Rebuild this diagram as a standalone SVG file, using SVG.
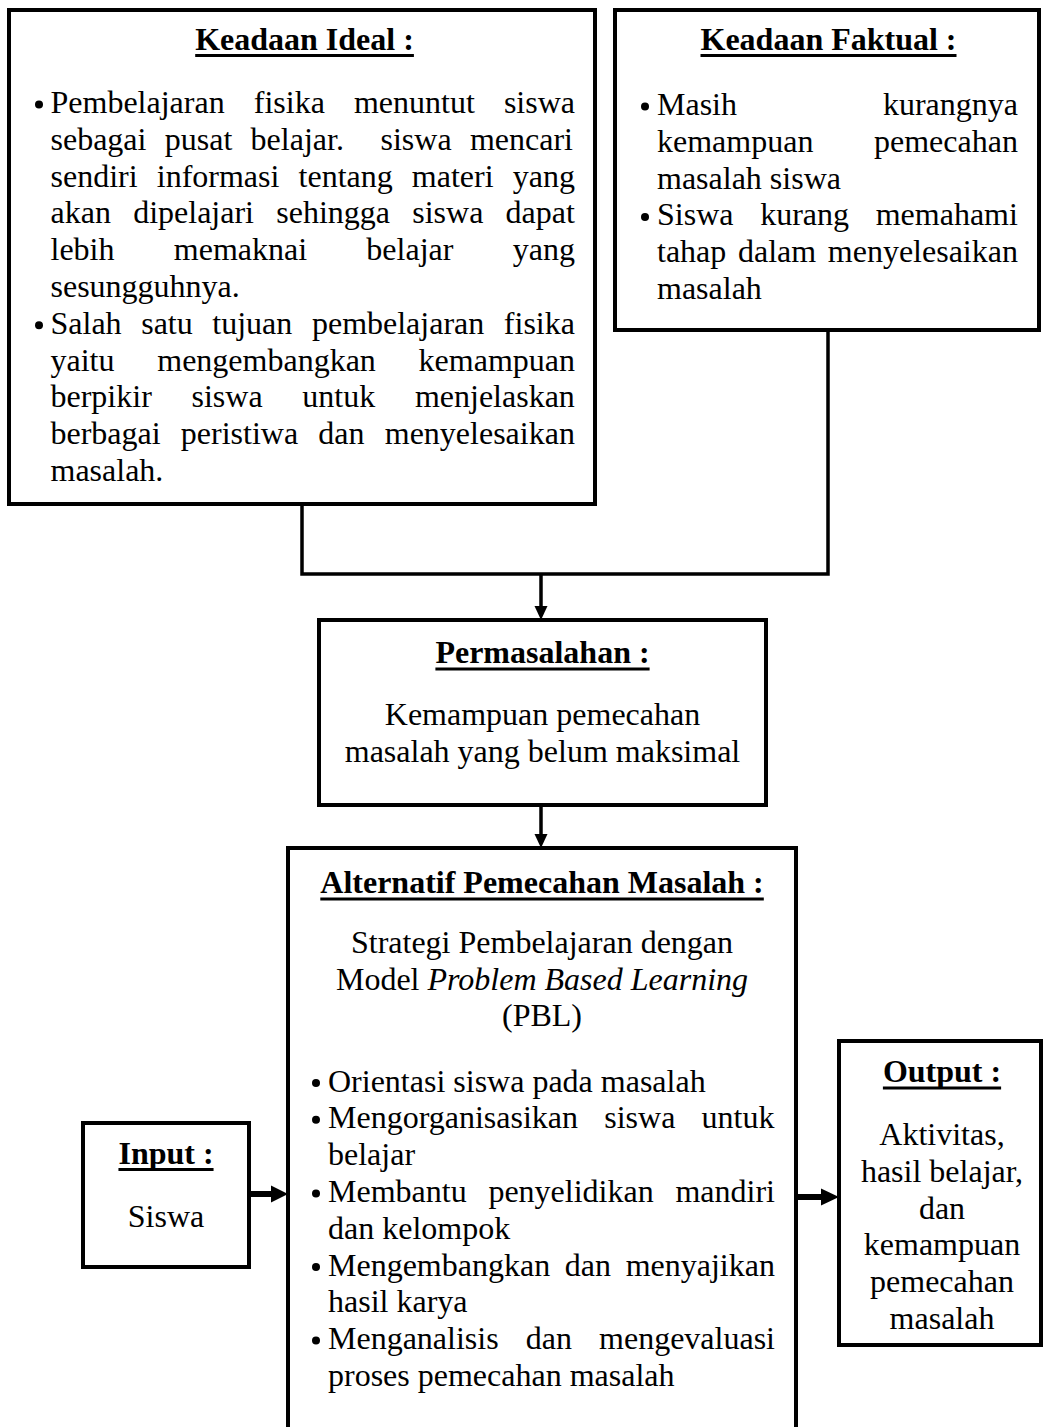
<svg xmlns="http://www.w3.org/2000/svg" width="1043" height="1427" viewBox="0 0 1043 1427">
<style>
.box{fill:#fff;stroke:#000;stroke-width:4}
.t{font-family:"Liberation Serif","Times New Roman",serif;font-size:32px;fill:#000}
.h{font-weight:bold}
.c{text-anchor:middle}
.i{font-style:italic}
.ul{fill:#000}
.bul{fill:#000}
.conn{fill:none;stroke:#000;stroke-width:3.5}
.thick{fill:none;stroke:#000;stroke-width:6}
.head{fill:#000}
</style>
<rect x="0" y="0" width="1043" height="1427" fill="#fff"/>

<g id="connectors">
  <path class="conn" d="M302,504 V574 H828 V330"/>
  <path class="conn" d="M541,574 V607"/>
  <polygon class="head" points="534.5,606 547.5,606 541,620"/>
  <path class="conn" d="M541,805 V835"/>
  <polygon class="head" points="534.5,834 547.5,834 541,848"/>
  <path class="thick" d="M249,1194 H272"/>
  <polygon class="head" points="271,1185.5 271,1202.5 288,1194"/>
  <path class="thick" d="M796,1197 H822"/>
  <polygon class="head" points="821,1188.5 821,1205.5 839,1197"/>
</g>

<g id="keadaan-ideal">
  <rect class="box" x="9" y="10" width="586" height="494"/>
  <text class="t h c" x="304.5" y="49.5">Keadaan Ideal :</text>
  <rect class="ul" x="195.2" y="54" width="218.7" height="3"/>
  <circle class="bul" cx="39" cy="104.5" r="4"/>
  <text class="t" x="50.5" y="113" style="word-spacing:21.1px">Pembelajaran fisika menuntut siswa</text>
  <text class="t" x="50.5" y="149.8" xml:space="preserve" style="word-spacing:10.3px">sebagai pusat belajar.  siswa mencari</text>
  <text class="t" x="50.5" y="186.6" style="word-spacing:11.15px">sendiri informasi tentang materi yang</text>
  <text class="t" x="50.5" y="223.4" style="word-spacing:14.25px">akan dipelajari sehingga siswa dapat</text>
  <text class="t" x="50.5" y="260.2" style="word-spacing:51.3px">lebih memaknai belajar yang</text>
  <text class="t" x="50.5" y="297">sesungguhnya.</text>
  <circle class="bul" cx="39" cy="325.3" r="4"/>
  <text class="t" x="50.5" y="333.8" style="word-spacing:11.6px">Salah satu tujuan pembelajaran fisika</text>
  <text class="t" x="50.5" y="370.6" style="word-spacing:34.75px">yaitu mengembangkan kemampuan</text>
  <text class="t" x="50.5" y="407.4" style="word-spacing:31.7px">berpikir siswa untuk menjelaskan</text>
  <text class="t" x="50.5" y="444.2" style="word-spacing:12.2px">berbagai peristiwa dan menyelesaikan</text>
  <text class="t" x="50.5" y="481">masalah.</text>
</g>

<g id="keadaan-faktual">
  <rect class="box" x="615" y="10" width="424" height="320"/>
  <text class="t h c" x="828.5" y="49.5">Keadaan Faktual :</text>
  <rect class="ul" x="700.5" y="54" width="256" height="3"/>
  <circle class="bul" cx="645" cy="106.5" r="4"/>
  <text class="t" x="657" y="115" style="word-spacing:137.9px">Masih kurangnya</text>
  <text class="t" x="657" y="151.8" style="word-spacing:52.6px">kemampuan pemecahan</text>
  <text class="t" x="657" y="188.6">masalah siswa</text>
  <circle class="bul" cx="645" cy="216.9" r="4"/>
  <text class="t" x="657" y="225.4" style="word-spacing:18.7px">Siswa kurang memahami</text>
  <text class="t" x="657" y="262.2" style="word-spacing:3.65px">tahap dalam menyelesaikan</text>
  <text class="t" x="657" y="299">masalah</text>
</g>

<g id="permasalahan">
  <rect class="box" x="319" y="620" width="447" height="185"/>
  <text class="t h c" x="542.5" y="663">Permasalahan :</text>
  <rect class="ul" x="435.4" y="667.5" width="214.2" height="3"/>
  <text class="t c" x="542.5" y="725">Kemampuan pemecahan</text>
  <text class="t c" x="542.5" y="762">masalah yang belum maksimal</text>
</g>

<g id="alternatif">
  <rect class="box" x="288" y="848" width="508" height="620"/>
  <text class="t h c" x="542" y="893">Alternatif Pemecahan Masalah :</text>
  <rect class="ul" x="320.3" y="897.5" width="443.5" height="3"/>
  <text class="t c" x="542" y="953">Strategi Pembelajaran dengan</text>
  <text class="t c" x="542" y="990">Model <tspan class="i">Problem Based Learning</tspan></text>
  <text class="t c" x="542" y="1026">(PBL)</text>
  <circle class="bul" cx="316" cy="1083" r="4"/>
  <text class="t" x="328" y="1091.5">Orientasi siswa pada masalah</text>
  <circle class="bul" cx="316" cy="1119.8" r="4"/>
  <text class="t" x="328" y="1128.3" style="word-spacing:18.2px">Mengorganisasikan siswa untuk</text>
  <text class="t" x="328" y="1165.1">belajar</text>
  <circle class="bul" cx="316" cy="1193.4" r="4"/>
  <text class="t" x="328" y="1201.9" style="word-spacing:13.75px">Membantu penyelidikan mandiri</text>
  <text class="t" x="328" y="1238.7">dan kelompok</text>
  <circle class="bul" cx="316" cy="1267" r="4"/>
  <text class="t" x="328" y="1275.5" style="word-spacing:6.65px">Mengembangkan dan menyajikan</text>
  <text class="t" x="328" y="1312.3">hasil karya</text>
  <circle class="bul" cx="316" cy="1340.6" r="4"/>
  <text class="t" x="328" y="1349.1" style="word-spacing:19.1px">Menganalisis dan mengevaluasi</text>
  <text class="t" x="328" y="1385.9">proses pemecahan masalah</text>
</g>

<g id="input">
  <rect class="box" x="83" y="1123" width="166" height="144"/>
  <text class="t h c" x="166" y="1163.5">Input :</text>
  <rect class="ul" x="118.45" y="1168" width="95.1" height="3"/>
  <text class="t c" x="166" y="1227">Siswa</text>
</g>

<g id="output">
  <rect class="box" x="839" y="1041" width="202" height="304"/>
  <text class="t h c" x="942" y="1082">Output :</text>
  <rect class="ul" x="882.9" y="1086.5" width="118.2" height="3"/>
  <text class="t c" x="942" y="1145">Aktivitas,</text>
  <text class="t c" x="942" y="1181.8">hasil belajar,</text>
  <text class="t c" x="942" y="1218.6">dan</text>
  <text class="t c" x="942" y="1255.4">kemampuan</text>
  <text class="t c" x="942" y="1292.2">pemecahan</text>
  <text class="t c" x="942" y="1329">masalah</text>
</g>
</svg>
